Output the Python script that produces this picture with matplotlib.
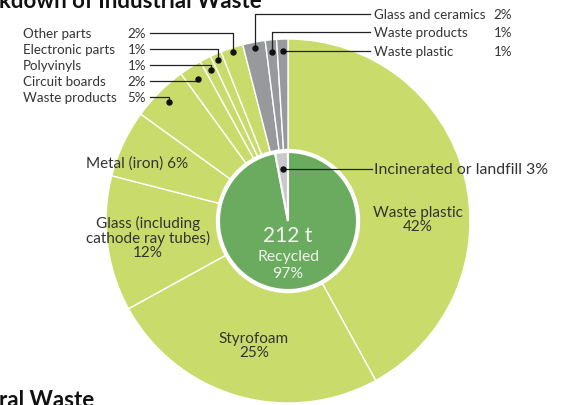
import numpy as np
import matplotlib
matplotlib.use("Agg")
import matplotlib.pyplot as plt

plt.rcParams['font.family'] = ['Lato', 'DejaVu Sans']

# ---- data ----
outer_labels = ["Waste plastic", "Styrofoam", "Glass (including\ncathode ray tubes)", "Metal (iron)",
                "Waste products", "Circuit boards", "Polyvinyls", "Electronic parts", "Other parts",
                "Glass and ceramics", "Waste products", "Waste plastic"]
outer_values = [42, 25, 12, 6, 5, 2, 1, 1, 2, 2, 1, 1]
outer_group = ["r"] * 9 + ["i"] * 3   # r = recycled, i = incinerated/landfill
inner_labels = ["Recycled", "Incinerated or landfill"]
inner_values = [97, 3]
total_text = "212 t"

W, H = 565, 406
fig = plt.figure(figsize=(W / 100, H / 100), dpi=100)
ax = fig.add_axes([0, 0, 1, 1])

def P(x, y):
    return x, H - y

cx, cy = P(288, 222)
R_out, R_in = 182, 69
GREEN = "#c9dc6b"
GRAY = "#98999c"
IGREEN = "#6aab5f"
LGRAY = "#c8c9cb"
TXT = "#333333"

out_colors = [GREEN if g == "r" else GRAY for g in outer_group]
wedges, _ = ax.pie(outer_values, colors=out_colors, startangle=90, counterclock=False,
                   center=(cx, cy), radius=R_out, frame=True,
                   wedgeprops=dict(edgecolor="white", linewidth=1.0))
ax.add_patch(plt.Circle((cx, cy), R_in + 2.5, color="white", zorder=2))
iw, _ = ax.pie(inner_values, colors=[IGREEN, LGRAY], startangle=90, counterclock=False,
               center=(cx, cy), radius=R_in, frame=True,
               wedgeprops=dict(edgecolor="white", linewidth=1.5))
for w in iw:
    w.set_zorder(3)
ax.set_xlim(0, W)
ax.set_ylim(0, H)
ax.set_aspect('equal')
ax.axis('off')

def mid_angle(w):
    return np.deg2rad((w.theta1 + w.theta2) / 2)

def dot_at(w, r):
    a = mid_angle(w)
    return cx + r * np.cos(a), cy + r * np.sin(a)

fs_small = 9.6
# left small-slice callouts
left_idx = [8, 7, 6, 5, 4]
left_y = [34, 50, 66, 82, 98]
left_r = [178, 175, 169, 168, 168]
for i, ly, r in zip(left_idx, left_y, left_r):
    dx, dy = dot_at(wedges[i], r)
    _, lyd = P(0, ly)
    ax.plot([150, dx, dx], [lyd, lyd, dy], color="#222222", lw=0.9, zorder=5)
    ax.plot(dx, dy, 'o', color="#111111", ms=3.6, zorder=6)
    ax.text(23, lyd, outer_labels[i], fontsize=fs_small, color=TXT, va='center', ha='left')
    ax.text(146, lyd, f"{outer_values[i]}%", fontsize=fs_small, color=TXT, va='center', ha='right')

# right gray-slice callouts
right_idx = [9, 10, 11]
right_y = [15, 33, 52]
right_r = [176, 170, 170]
for i, ly, r in zip(right_idx, right_y, right_r):
    dx, dy = dot_at(wedges[i], r)
    _, lyd = P(0, ly)
    ax.plot([dx, dx, 370], [dy, lyd, lyd], color="#222222", lw=0.9, zorder=5)
    ax.plot(dx, dy, 'o', color="#111111", ms=3.6, zorder=6)
    ax.text(374, lyd, outer_labels[i], fontsize=fs_small, color=TXT, va='center', ha='left')
    ax.text(512, lyd, f"{outer_values[i]}%", fontsize=fs_small, color=TXT, va='center', ha='right')

# incinerated callout
dx, dy = dot_at(iw[1], 52)
_, ly = P(0, 170)
ax.plot([dx, 372], [dy, dy], color="#222222", lw=0.9, zorder=5)
ax.plot(dx, dy, 'o', color="#111111", ms=3.6, zorder=6)
ax.text(374, ly, f"{inner_labels[1]} {inner_values[1]}%", fontsize=11.4, color=TXT,
        va='center', ha='left', zorder=6)

# big-slice labels
fs_big = 11
ax.text(*P(418, 220), f"{outer_labels[0]}\n{outer_values[0]}%", fontsize=fs_big, color=TXT,
        ha='center', va='center', linespacing=1.0)
ax.text(*P(254, 346), f"{outer_labels[1]}\n{outer_values[1]}%", fontsize=fs_big, color=TXT,
        ha='center', va='center', linespacing=1.0)
ax.text(*P(148, 238), f"{outer_labels[2]}\n{outer_values[2]}%", fontsize=fs_big, color=TXT,
        ha='center', va='center', linespacing=1.0)
ax.text(*P(137, 164), f"{outer_labels[3]} {outer_values[3]}%", fontsize=fs_big, color=TXT,
        ha='center', va='center')

# inner texts
ax.text(*P(288, 236), total_text, fontsize=15, color="#f2f6ee", ha='center', va='center', zorder=7)
ax.text(*P(288, 257), inner_labels[0], fontsize=11.3, color="#eef3e8", ha='center', va='center', zorder=7)
ax.text(*P(288, 274), f"{inner_values[0]}%", fontsize=11.3, color="#eef3e8", ha='center', va='center', zorder=7)

# headings (cropped at the picture edges, as in the reference)
ax.text(-1, H - 8.5, "kdown of Industrial Waste", fontsize=16, fontweight='bold', color="#111111",
        ha='left', va='baseline')
ax.text(-1, -1, "ral Waste", fontsize=16, fontweight='bold', color="#111111",
        ha='left', va='baseline')

fig.savefig("out.png", dpi=100)
